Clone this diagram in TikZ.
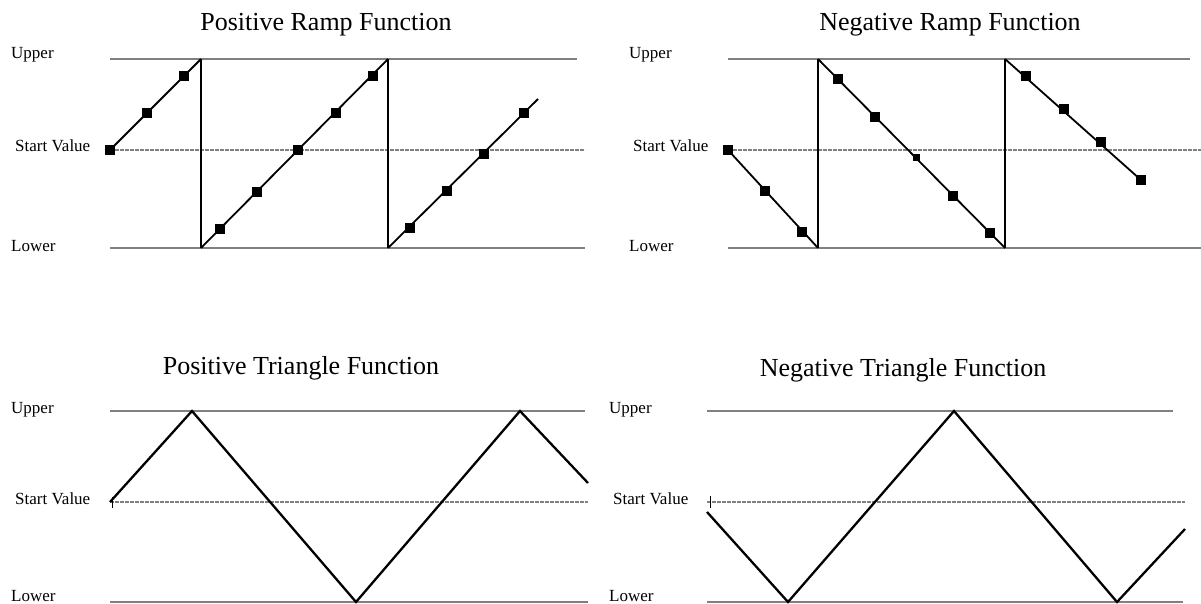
\documentclass[tikz,border=0pt]{standalone}
\usepackage{fontspec}
\setmainfont{Liberation Serif}
\begin{document}
\begin{tikzpicture}[x=1pt, y=-1pt,
    boundline/.style={gray, line width=1.5pt},
    startline/.style={gray, line width=1.5pt, dash pattern=on 4pt off 1pt},
    rampline/.style={black, line width=1.8pt},
    jumpline/.style={black, line width=1.5pt},
    triline/.style={black, line width=2.3pt},
    lbl/.style={anchor=base west, inner sep=0pt, font=\fontsize{17}{19}\selectfont},
    ttl/.style={anchor=base, inner sep=0pt, font=\fontsize{26}{28}\selectfont}]
    \useasboundingbox (0,0) rectangle (1201,604);
    % Positive ramp
    \node[ttl] (titleA) at (326,30.5) {Positive Ramp Function};
    \node[lbl] (upA) at (11,59) {Upper};
    \node[lbl] (startA) at (15,152) {Start Value};
    \node[lbl] (lowA) at (11,251) {Lower};
    \draw[boundline] (110,59) -- (577,59);
    \draw[startline] (110,150) -- (585,150);
    \draw[boundline] (110,248) -- (585,248);
    \draw[rampline] (110,150) -- (201,59);
    \draw[jumpline] (201,59) -- (201,248);
    \draw[rampline] (201,248) -- (388,59);
    \draw[jumpline] (388,59) -- (388,248);
    \draw[rampline] (388,248) -- (538,99);
    \foreach \px/\py in {110/150, 147/113, 184/76, 220/229, 257/192, 298/150, 336/113, 373/76, 410/228, 447/191, 484/154, 524/113} {
        \fill ({\px-5},{\py-5}) rectangle ++(10,10);
    }
    % Negative ramp
    \node[ttl] (titleB) at (950,30.5) {Negative Ramp Function};
    \node[lbl] (upB) at (629,59) {Upper};
    \node[lbl] (startB) at (633,152) {Start Value};
    \node[lbl] (lowB) at (629,251) {Lower};
    \draw[boundline] (728,59) -- (1190,59);
    \draw[startline] (728,150) -- (1201,150);
    \draw[boundline] (728,248) -- (1201,248);
    \draw[rampline] (728,150) -- (818,248);
    \draw[jumpline] (818,248) -- (818,59);
    \draw[rampline] (818,59) -- (1005,248);
    \draw[jumpline] (1005,248) -- (1005,59);
    \draw[rampline] (1005,59) -- (1141,180);
    \foreach \px/\py in {728/150, 765/191, 802/232, 838/79, 875/117, 953/196, 990/233, 1026/76, 1064/109, 1101/142, 1141/180} {
        \fill ({\px-5},{\py-5}) rectangle ++(10,10);
    }
    \fill (912.5,154.5) rectangle ++(7,7);
    % Positive triangle
    \node[ttl] (titleC) at (301,374) {Positive Triangle Function};
    \node[lbl] (upC) at (11,413) {Upper};
    \node[lbl] (startC) at (15,504) {Start Value};
    \node[lbl] (lowC) at (11,601) {Lower};
    \draw[boundline] (110,411) -- (585,411);
    \draw[startline] (110,502) -- (588,502);
    \draw[boundline] (110,602) -- (588,602);
    \draw[triline] (110,502) -- (192,411) -- (356,602) -- (520,411) -- (588,483);
    \draw[thin] (112,497) -- (112,508);
    % Negative triangle
    \node[ttl] (titleD) at (903,376) {Negative Triangle Function};
    \node[lbl] (upD) at (609,413) {Upper};
    \node[lbl] (startD) at (613,504) {Start Value};
    \node[lbl] (lowD) at (609,601) {Lower};
    \draw[boundline] (707,411) -- (1173,411);
    \draw[startline] (707,502) -- (1185,502);
    \draw[boundline] (707,602) -- (1183,602);
    \draw[triline] (707,512) -- (788,602) -- (954,411) -- (1117,602) -- (1185,529);
    \draw[thin] (710,496) -- (710,508);
\end{tikzpicture}
\end{document}
